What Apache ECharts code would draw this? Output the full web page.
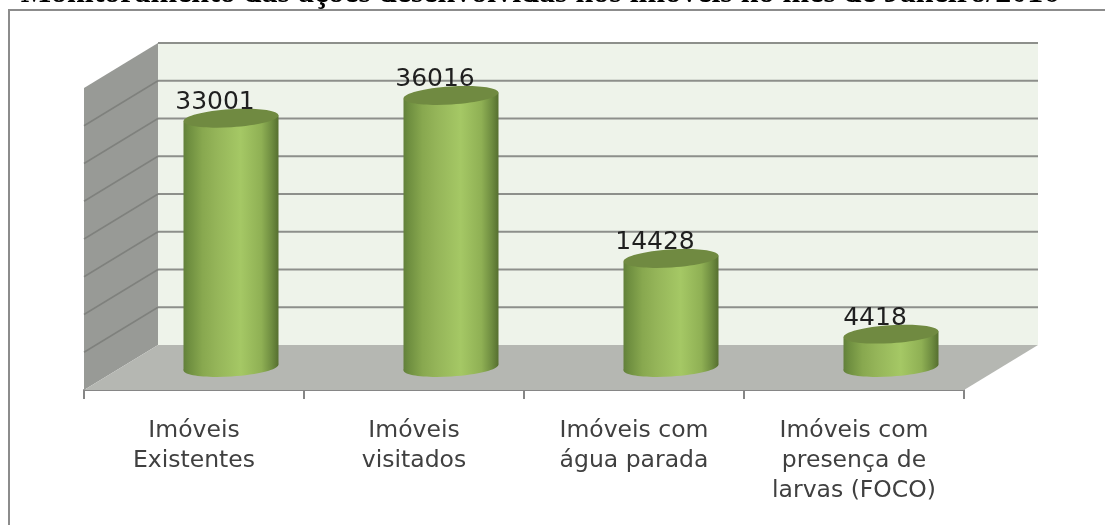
<!DOCTYPE html>
<html><head><meta charset="utf-8">
<style>html,body{margin:0;padding:0;background:#fff}#c{width:1105px;height:525px;filter:blur(0.5px)}</style>
<script src="https://cdn.jsdelivr.net/npm/echarts@6/dist/echarts.min.js"></script>
</head><body><div id="c"></div>
<script>
const titleText = 'Monitoramento das ações desenvolvidas nos imóveis no mês de Janeiro/2016';
const categories = ['Imóveis\nExistentes','Imóveis\nvisitados','Imóveis com\nágua parada','Imóveis com\npresença de\nlarvas (FOCO)'];
const values = [33001,36016,14428,4418];
const yTicks = [5000,10000,15000,20000,25000,30000,35000,40000];
const DX = 74, DY = 45, RX = 47.5, RY = 9, TILT = 3;
const chart = echarts.init(document.getElementById('c'));
const bodyFill = new echarts.graphic.LinearGradient(0,0,1,0,[
  {offset:0,color:'#62803a'},{offset:.06,color:'#6f8f40'},{offset:.2,color:'#88a84f'},{offset:.35,color:'#95b559'},
  {offset:.6,color:'#a5c865'},{offset:.82,color:'#8fb054'},{offset:.93,color:'#6e8c40'},{offset:1,color:'#566f30'}]);
chart.setOption({
  animation:false,
  backgroundColor:'#fff',
  title:{text:titleText,left:540,textAlign:'center',top:-22,padding:0,
    textStyle:{fontFamily:'Liberation Serif',fontWeight:'bold',fontSize:32,color:'#000',lineHeight:32}},
  graphic:[{type:'polyline',silent:true,z:0,shape:{points:[[9,525],[9,10],[1105,10]]},style:{stroke:'#8c8c8c',lineWidth:2,fill:null}}],
  grid:{left:84,width:880,top:88,height:302},
  xAxis:{type:'category',data:categories,boundaryGap:true,
    axisLine:{show:true,lineStyle:{color:'#868686',width:2}},
    axisTick:{show:true,length:9,interval:0,lineStyle:{color:'#868686',width:2}},
    axisLabel:{interval:0,margin:25.5,color:'#404040',fontFamily:'DejaVu Sans',fontSize:23.5,lineHeight:30,verticalAlign:'top'}},
  yAxis:{type:'value',min:0,max:40000,interval:5000,show:false,splitLine:{show:false}},
  series:[
    {type:'custom',z:1,data:[[0,0]],encode:{x:0,y:1},silent:true,renderItem(p,api){
      const band=api.size([1,0])[0];
      const x0=api.coord([0,0])[0]-band/2;
      const x1=x0+band*categories.length;
      const y0=api.coord([0,0])[1], yT=api.coord([0,40000])[1];
      return {type:'group',children:[
        {type:'polygon',shape:{points:[[x0+DX,y0-DY],[x1+DX,y0-DY],[x1+DX,yT-DY],[x0+DX,yT-DY]]},style:{fill:'#eef3ea'}},
        {type:'polygon',shape:{points:[[x0,y0],[x0+DX,y0-DY],[x0+DX,yT-DY],[x0,yT]]},style:{fill:'#989a96'}},
        {type:'polygon',shape:{points:[[x0,y0],[x1,y0],[x1+DX,y0-DY],[x0+DX,y0-DY]]},style:{fill:'#b5b7b2'}}
      ]};
    }},
    {type:'custom',z:2,data:yTicks.map(v=>[0,v]),encode:{x:0,y:1},silent:true,renderItem(p,api){
      const v=api.value(1);
      const band=api.size([1,0])[0];
      const x0=api.coord([0,0])[0]-band/2;
      const x1=x0+band*categories.length;
      const y=api.coord([0,v])[1];
      const ch=[{type:'line',shape:{x1:x0+DX,y1:y-DY,x2:x1+DX,y2:y-DY},style:{stroke:'#8d8f8b',lineWidth:2}}];
      if(v<40000) ch.push({type:'line',shape:{x1:x0,y1:y,x2:x0+DX,y2:y-DY},style:{stroke:'#7f817d',lineWidth:1.5}});
      return {type:'group',children:ch};
    }},
    {type:'custom',z:3,data:values.map((v,i)=>[i,v]),encode:{x:0,y:1},silent:true,renderItem(p,api){
      const i=api.value(0), v=api.value(1);
      const base=api.coord([i,0]), top=api.coord([i,v]);
      const cx=base[0]+DX/2, yb=base[1]-DY/2, yt=top[1]-DY/2;
      const rot=Math.atan2(TILT,RX);
      const ell=(cy,fill)=>({type:'ellipse',shape:{cx,cy,rx:RX,ry:RY},rotation:rot,originX:cx,originY:cy,style:{fill}});
      return {type:'group',children:[
        ell(yb,bodyFill),
        {type:'polygon',shape:{points:[[cx-RX,yt+TILT],[cx+RX,yt-TILT],[cx+RX,yb-TILT],[cx-RX,yb+TILT]]},style:{fill:bodyFill}},
        ell(yt,'#708a41'),
        {type:'text',style:{text:String(v),x:cx-16,y:yt-16,align:'center',verticalAlign:'middle',fontFamily:'DejaVu Sans',fontSize:25,fill:'#1f1f1f'}}
      ]};
    }}
  ]
});
</script></body></html>
